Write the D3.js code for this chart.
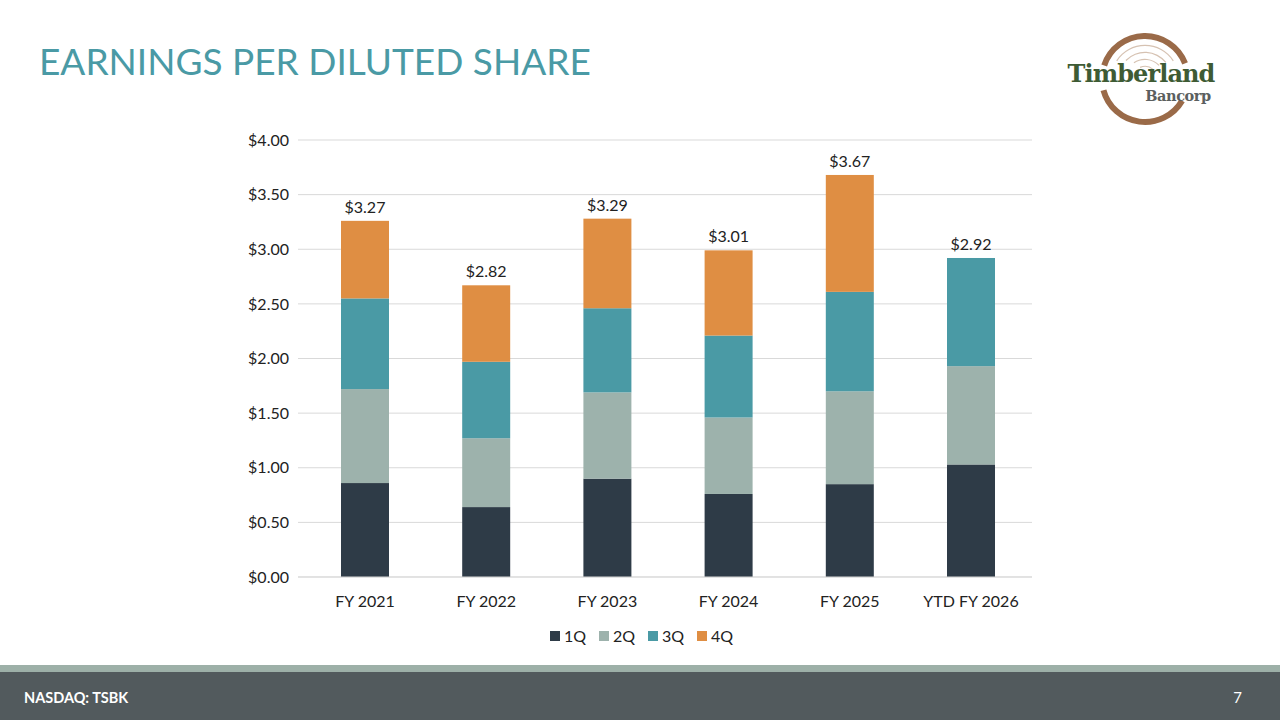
<!DOCTYPE html>
<meta charset="utf-8">
<script src="https://d3js.org/d3.v7.min.js"></script>
<style>
  body { margin: 0; background: #fff; }
  text { font-family: Lato, "Open Sans", sans-serif; }
</style>
<div id="my_dataviz"></div>
<script>
    // values
    var years = ["FY 2021", "FY 2022", "FY 2023", "FY 2024", "FY 2025", "YTD FY 2026"];
    var q1 = [0.86, 0.64, 0.90, 0.76, 0.85, 1.03];
    var q2 = [0.86, 0.63, 0.79, 0.70, 0.85, 0.90];
    var q3 = [0.83, 0.70, 0.77, 0.75, 0.91, 0.99];
    var q4 = [0.71, 0.70, 0.82, 0.78, 1.07, 0];
    var totalLabels = ["$3.27", "$2.82", "$3.29", "$3.01", "$3.67", "$2.92"];
    var quarters = ["1Q", "2Q", "3Q", "4Q"];
    var yTicks = [0, 0.5, 1, 1.5, 2, 2.5, 3, 3.5, 4];

    var W = 1280, H = 720;
    var margin = { top: 140, right: 248, bottom: 143, left: 298 },
        width = W - margin.left - margin.right,
        height = H - margin.top - margin.bottom;

    var root = d3.select("#my_dataviz")
        .append("svg")
        .attr("width", W)
        .attr("height", H);

    // title
    root.append("text")
        .attr("x", 39)
        .attr("y", 75)
        .style("font-size", "37px")
        .style("fill", "#4A9AA5")
        .text("EARNINGS PER DILUTED SHARE");

    // logo
    var logo = root.append("g").attr("transform", "translate(1145,79)");
    var arc = d3.arc();
    logo.append("path")
        .attr("d", arc({ innerRadius: 40, outerRadius: 46, startAngle: -1.25, endAngle: 1.2 }))
        .attr("fill", "#9A6A48");
    logo.append("path")
        .attr("d", arc({ innerRadius: 40, outerRadius: 46, startAngle: 2.1, endAngle: 4.45 }))
        .attr("fill", "#9A6A48");
    [33, 26, 19, 12].forEach(function (r, i) {
        logo.append("path")
            .attr("d", arc({ innerRadius: r, outerRadius: r + 1.2, startAngle: -1.0 + i * 0.2, endAngle: 1.0 - i * 0.1 }))
            .attr("fill", "#D6C2B2");
    });
    logo.append("text")
        .attr("x", -4)
        .attr("y", 3)
        .attr("text-anchor", "middle")
        .style("font-family", "'DejaVu Serif', serif")
        .style("font-weight", "bold")
        .style("font-size", "24px")
        .style("letter-spacing", "-0.9px")
        .style("fill", "#3E5B34")
        .text("Timberland");
    logo.append("text")
        .attr("x", 33)
        .attr("y", 22)
        .attr("text-anchor", "middle")
        .style("font-family", "'DejaVu Serif', serif")
        .style("font-weight", "bold")
        .style("font-size", "14.5px")
        .style("letter-spacing", "-0.4px")
        .style("fill", "#5B5F60")
        .text("Bancorp");

    var svg = root.append("g")
        .attr("transform", "translate(" + margin.left + "," + margin.top + ")");

    var x = d3.scaleBand()
        .domain(years)
        .range([3, width + 3])
        .paddingInner(0.604)
        .paddingOuter(0.33);

    var y = d3.scaleLinear()
        .domain([0, 4])
        .range([height, 0]);

    // gridlines
    svg.append("g")
        .selectAll("line")
        .data(yTicks)
        .enter()
        .append("line")
        .attr("x1", 0)
        .attr("x2", width)
        .attr("y1", function (d) { return y(d); })
        .attr("y2", function (d) { return y(d); })
        .attr("stroke", "#D9D9D9")
        .attr("stroke-width", 1);

    // Y axis labels
    var yAxis = svg.append("g")
        .call(d3.axisLeft(y).tickValues(yTicks).tickSize(0).tickPadding(9)
            .tickFormat(function (d) { return "$" + d.toFixed(2); }));
    yAxis.select(".domain").remove();
    yAxis.selectAll("text").style("font-size", "16px").style("fill", "#222")
        .style("font-family", "Lato, 'Open Sans', sans-serif");

    // X axis labels
    var xAxis = svg.append("g")
        .attr("transform", "translate(0," + height + ")")
        .call(d3.axisBottom(x).tickSize(0).tickPadding(19));
    xAxis.select(".domain").remove();
    xAxis.selectAll("text").style("font-size", "16px").style("fill", "#222")
        .style("font-family", "Lato, 'Open Sans', sans-serif");

    var color = d3.scaleOrdinal()
        .domain(quarters)
        .range(["#2E3B47", "#9DB2AC", "#4A9AA5", "#DF8E43"]);

    var table = years.map(function (yr, i) {
        return { year: yr, "1Q": q1[i], "2Q": q2[i], "3Q": q3[i], "4Q": q4[i] };
    });
    var stacked = d3.stack().keys(quarters)(table);

    svg.append("g")
        .selectAll("g")
        .data(stacked)
        .enter()
        .append("g")
        .attr("fill", function (d) { return color(d.key); })
        .selectAll("rect")
        .data(function (d) { return d; })
        .enter()
        .append("rect")
        .attr("x", function (d) { return x(d.data.year); })
        .attr("y", function (d) { return y(d[1]); })
        .attr("height", function (d) { return y(d[0]) - y(d[1]); })
        .attr("width", x.bandwidth());

    // baseline
    svg.append("line")
        .attr("x1", 0).attr("x2", width)
        .attr("y1", height).attr("y2", height)
        .attr("stroke", "#D9D9D9");

    // total labels
    svg.append("g")
        .selectAll("text")
        .data(table)
        .enter()
        .append("text")
        .attr("x", function (d) { return x(d.year) + x.bandwidth() / 2; })
        .attr("y", function (d) { return y(d["1Q"] + d["2Q"] + d["3Q"] + d["4Q"]) - 8; })
        .attr("text-anchor", "middle")
        .style("font-size", "16px")
        .style("fill", "#222")
        .text(function (d, i) { return totalLabels[i]; });

    // legend
    var legend = root.append("g").attr("transform", "translate(550,636)");
    var lx = [0, 49, 98, 147];
    quarters.forEach(function (q, i) {
        legend.append("rect")
            .attr("x", lx[i]).attr("y", -5)
            .attr("width", 10).attr("height", 10)
            .attr("fill", color(q));
        legend.append("text")
            .attr("x", lx[i] + 14).attr("y", 6)
            .style("font-size", "16px")
            .style("fill", "#222")
            .text(q);
    });

    // footer
    root.append("rect").attr("x", 0).attr("y", 665).attr("width", W).attr("height", 7).attr("fill", "#9DB0A8");
    root.append("rect").attr("x", 0).attr("y", 672).attr("width", W).attr("height", 48).attr("fill", "#525A5D");
    root.append("text")
        .attr("x", 24).attr("y", 703)
        .style("font-size", "14.5px").style("font-weight", "bold")
        .style("fill", "#fff")
        .text("NASDAQ: TSBK");
    root.append("text")
        .attr("x", 1242).attr("y", 703)
        .attr("text-anchor", "end")
        .style("font-size", "15px")
        .style("fill", "#fff")
        .text("7");
</script>
